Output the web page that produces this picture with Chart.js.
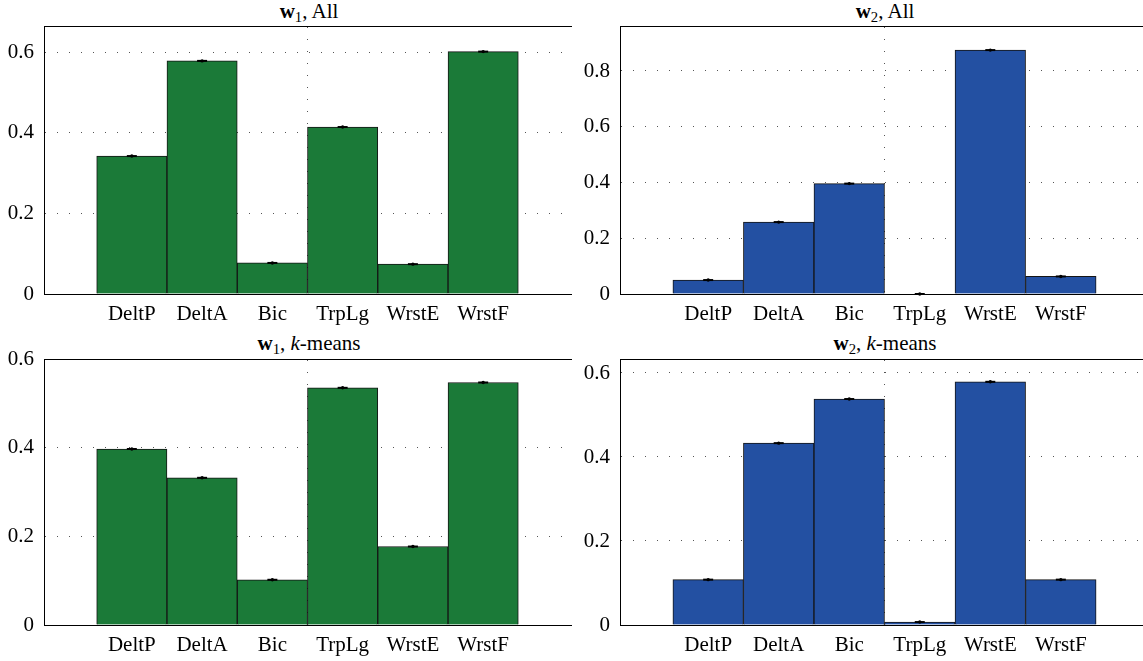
<!DOCTYPE html>
<html>
<head>
<meta charset="utf-8">
<script src="https://cdn.jsdelivr.net/npm/chart.js@4.4.1/dist/chart.umd.min.js"></script>
<style>
  html, body { margin: 0; padding: 0; background: #fff; overflow: hidden; width: 1143px; height: 661px; position: relative; }
  canvas { position: absolute; }
  .title { position: absolute; font-family: "Liberation Serif", serif; font-size: 21px; line-height: 21px;
           white-space: nowrap; transform: translateX(-50%); color: #000; }
  .title sub { font-size: 0.7em; line-height: 0; vertical-align: -0.3em; }
</style>
</head>
<body>
<div class="title" style="left:309px; top:1px;"><b>w</b><sub>1</sub>, All</div>
<div class="title" style="left:885px; top:1px;"><b>w</b><sub>2</sub>, All</div>
<div class="title" style="left:309px; top:333px;"><b>w</b><sub>1</sub>, <i>k</i>-means</div>
<div class="title" style="left:885px; top:333px;"><b>w</b><sub>2</sub>, <i>k</i>-means</div>

<canvas id="c1" width="578" height="330" style="left:0; top:0;"></canvas>
<canvas id="c2" width="580" height="330" style="left:578px; top:0;"></canvas>
<canvas id="c3" width="578" height="331" style="left:0; top:330px;"></canvas>
<canvas id="c4" width="580" height="331" style="left:578px; top:330px;"></canvas>

<script>
// Feature names shared by all four panels
const categories = ['DeltP', 'DeltA', 'Bic', 'TrpLg', 'WrstE', 'WrstF'];

// Weight vectors
const w1All    = [0.342, 0.578, 0.077, 0.414, 0.074, 0.601];
const w2All    = [0.050, 0.258, 0.396, 0.000, 0.875, 0.063];
const w1Kmeans = [0.397, 0.332, 0.102, 0.535, 0.177, 0.547];
const w2Kmeans = [0.108, 0.433, 0.538, 0.007, 0.579, 0.108];

// Y tick values
const ticksW1All    = [0, 0.2, 0.4, 0.6];
const ticksW2All    = [0, 0.2, 0.4, 0.6, 0.8];
const ticksW1Kmeans = [0, 0.2, 0.4, 0.6];
const ticksW2Kmeans = [0, 0.2, 0.4, 0.6];

const GREEN = '#1b7a38';
const BLUE  = '#2350a2';
const FONT  = { family: '"Liberation Serif", serif', size: 21 };
const X_MIN = -0.25, X_MAX = 7.25;

function makeChart(id, values, color, yMax, yTicks, box) {
  const pts = values.map((v, i) => ({ x: i + 1, y: v }));
  return new Chart(document.getElementById(id), {
    type: 'bar',
    data: {
      datasets: [
        { type: 'bar', data: pts, backgroundColor: color, borderColor: '#151515', borderWidth: 1,
          borderSkipped: 'start', barPercentage: 1, categoryPercentage: 1, xAxisID: 'x', yAxisID: 'y', order: 3 },
        { type: 'scatter', data: pts, pointStyle: 'line', radius: 5, borderColor: '#000', borderWidth: 2,
          xAxisID: 'x', yAxisID: 'y', clip: false, order: 2 },
        { type: 'scatter', data: pts, pointStyle: 'circle', radius: 1.7, backgroundColor: '#000', borderWidth: 0,
          xAxisID: 'x', yAxisID: 'y', clip: false, order: 1 }
      ]
    },
    options: {
      responsive: false,
      animation: false,
      events: [],
      layout: { padding: { left: 0, right: box.padRight, top: 0, bottom: 0 } },
      plugins: { legend: { display: false }, tooltip: { enabled: false }, title: { display: false } },
      scales: {
        x: {
          type: 'linear', position: 'bottom', min: X_MIN, max: X_MAX, offset: false, bounds: 'data',
          afterBuildTicks: s => { s.ticks = categories.map((c, i) => ({ value: i + 1 })); },
          afterFit: s => { s.height = box.bottomH; },
          ticks: { callback: v => categories[v - 1], font: FONT, color: '#000', padding: 8, maxRotation: 0, autoSkip: false },
          grid: { display: false, drawTicks: false, offset: false },
          border: { display: true, color: '#000', width: 1, z: 1 }
        },
        xTop: {
          type: 'linear', position: 'top', min: X_MIN, max: X_MAX, offset: false, bounds: 'data',
          afterBuildTicks: s => { s.ticks = [{ value: 3.5 }]; },
          afterFit: s => { s.height = box.topH; },
          ticks: { display: false },
          grid: { display: true, drawTicks: false, offset: false, color: '#555', lineWidth: 1 },
          border: { display: true, color: '#000', width: 1, dash: [1, 11], z: 1 }
        },
        y: {
          type: 'linear', position: 'left', min: 0, max: yMax,
          afterBuildTicks: s => { s.ticks = yTicks.map(v => ({ value: v })); },
          afterFit: s => { s.width = box.leftW; },
          ticks: { callback: v => (v === 0 ? '0' : v.toFixed(1)), font: FONT, color: '#000', padding: 10 },
          grid: { display: true, drawTicks: false, lineWidth: 1,
                  color: ctx => (ctx.tick && ctx.tick.value === 0 ? 'rgba(0,0,0,0)' : '#555') },
          border: { display: true, color: '#000', width: 1, dash: [1, 11], z: 1 }
        }
      }
    }
  });
}

makeChart('c1', w1All,    GREEN, 0.6645, ticksW1All,    { leftW: 44, padRight: 5, topH: 26, bottomH: 36 });
makeChart('c2', w2All,    BLUE,  0.9614, ticksW2All,    { leftW: 42, padRight: 9, topH: 26, bottomH: 36 });
makeChart('c3', w1Kmeans, GREEN, 0.6,    ticksW1Kmeans, { leftW: 44, padRight: 5, topH: 29, bottomH: 36 });
makeChart('c4', w2Kmeans, BLUE,  0.6333, ticksW2Kmeans, { leftW: 42, padRight: 9, topH: 29, bottomH: 36 });
</script>
</body>
</html>
